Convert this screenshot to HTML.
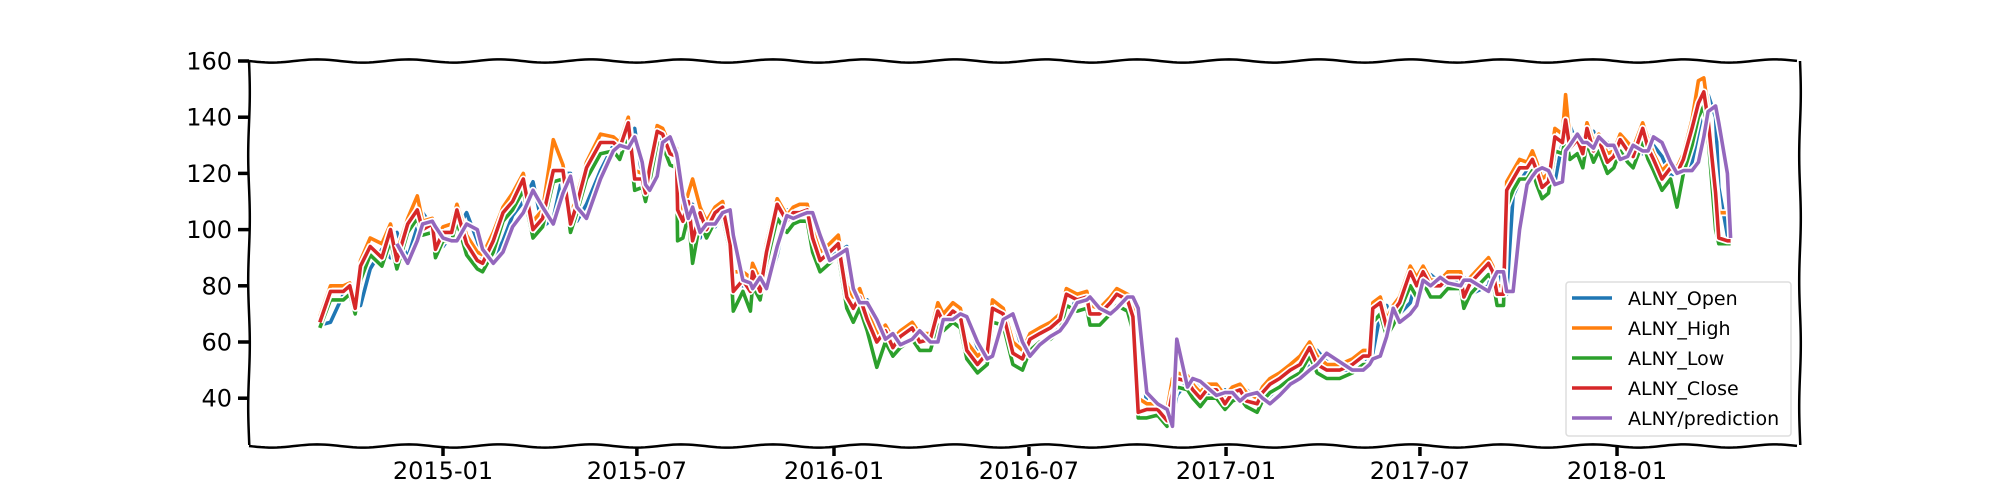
<!DOCTYPE html>
<html><head><meta charset="utf-8"><style>
html,body{margin:0;padding:0;background:#fff;}
svg{display:block;}
text{font-family:"DejaVu Sans","Liberation Sans",sans-serif;font-size:24px;fill:#000;}
</style></head><body>
<svg id="chart" width="2000" height="500" viewBox="0 0 2000 500" xmlns="http://www.w3.org/2000/svg">
<g id="frame"></g>
<g id="series"></g>
<g id="axes"></g>
<g id="legend"></g>
</svg>
<script>
// day offsets since 2014-09-01
const days=[7,17,29,35,40,45,54,65,73,79,89,98,103,112,115,122,130,135,144,154,159,169,178,187,197,206,215,225,234,241,247,256,269,281,287,295,301,308,311,315,322,327,334,340,341,346,351,355,362,368,376,383,390,393,402,409,411,418,424,434,443,449,455,462,467,474,483,491,499,505,511,518,527,535,542,549,560,567,577,584,589,598,605,611,621,630,635,645,654,663,670,679,689,698,704,714,723,726,735,745,751,761,766,771,779,789,798,803,807,817,822,829,835,844,852,859,866,872,882,887,894,903,913,922,931,938,947,959,971,981,987,990,997,1003,1009,1015,1025,1031,1037,1044,1053,1060,1072,1075,1081,1098,1102,1106,1112,1115,1121,1127,1134,1139,1143,1148,1154,1160,1167,1170,1174,1181,1186,1190,1196,1201,1209,1215,1221,1228,1233,1242,1247,1252,1260,1268,1274,1280,1288,1294,1299,1303,1310,1313,1321,1324];
const closeVals=[67,78,78,80,72,87,94,90,100,89,102,107,100,102,93,99,99,107,95,89,88,96,106,110,118,100,104,121,121,102,109,122,131,131,129,138,118,118,113,122,135,134,127,126,107,103,110,96,106,100,106,108,95,78,82,78,85,78,92,109,103,106,106,107,97,89,92,95,76,72,76,68,60,64,58,62,65,60,61,71,67,71,69,57,52,56,72,70,56,54,61,63,65,68,77,75,76,70,70,74,77,75,69,35,36,36,32,42,47,46,43,40,43,43,38,42,43,39,38,42,45,47,50,52,58,52,50,50,52,55,55,72,74,65,71,74,85,80,85,80,80,83,83,76,81,88,85,77,77,114,118,122,122,125,121,115,117,133,131,139,129,132,127,136,128,132,124,126,132,128,126,136,129,125,118,122,120,125,136,145,149,139,113,97,96,96];
const openVals=[66,67,77,78,79,73,86,93,90,99,90,101,106,101,101,94,98,100,106,96,89,89,96,105,110,117,101,104,120,120,103,109,121,130,131,129,136,119,117,114,122,134,133,127,125,108,104,109,97,105,101,105,107,96,80,81,79,84,79,91,107,104,105,106,106,98,90,92,94,78,73,75,69,61,63,59,61,64,60,62,70,67,70,69,58,53,56,70,69,57,55,60,62,65,68,76,75,75,71,70,73,76,75,70,37,36,36,33,41,46,46,43,41,42,43,39,41,43,40,38,41,44,47,49,52,57,53,50,50,52,54,56,70,73,66,70,74,83,81,84,81,80,82,83,77,80,87,85,78,77,112,117,121,122,124,122,116,117,131,131,137,130,131,128,135,129,131,125,126,131,128,127,134,130,126,119,121,121,124,135,144,148,140,115,98,97];
const highVals=[69,80,80,81,76,89,97,95,102,92,104,112,103,104,96,101,102,109,98,92,91,99,108,113,120,103,107,132,123,105,112,124,134,133,131,140,121,120,118,124,137,136,130,129,111,106,113,118,108,103,108,110,98,85,85,83,88,82,95,111,105,108,109,109,100,92,95,98,80,76,79,71,63,66,61,64,67,63,63,74,70,74,72,60,55,58,75,72,60,57,63,65,67,70,79,77,78,73,72,76,79,77,76,40,38,38,36,47,49,48,45,42,45,45,41,44,45,42,40,44,47,49,52,55,60,55,52,52,54,57,57,74,76,68,73,76,87,83,87,82,82,85,85,79,83,90,87,80,80,117,121,125,124,128,124,118,120,136,134,148,132,134,130,138,131,134,127,128,134,131,129,138,132,127,121,124,122,127,139,153,154,143,117,106,106,106];
const lowVals=[65,75,75,77,70,82,91,87,96,86,99,104,98,99,90,96,96,103,91,86,85,92,103,107,114,97,101,117,118,99,106,118,127,128,125,134,114,115,110,117,131,130,123,122,96,97,105,88,103,97,103,105,92,71,78,71,80,75,88,104,99,102,103,103,92,85,88,91,72,67,72,64,51,60,55,58,61,57,57,66,64,67,65,54,49,52,67,66,52,50,57,60,61,64,73,71,72,66,66,70,73,71,64,33,33,34,30,38,44,43,40,37,40,40,36,39,40,37,35,39,42,44,47,49,55,49,47,47,49,52,52,67,70,62,66,71,80,76,81,76,76,79,79,72,77,84,82,73,73,108,114,118,118,121,116,111,113,128,127,133,125,127,122,131,124,128,120,122,128,124,122,131,125,121,114,118,108,120,130,140,144,133,100,95,95,95];
const predVals=[null,null,null,null,null,null,null,null,null,95,88,96,102,103,101,97,96,96,102,100,93,88,92,101,106,114,108,102,113,119,108,104,118,128,130,129,133,124,116,114,119,131,133,127,125,112,104,108,99,102,102,106,107,98,82,81,79,83,79,94,105,104,105,106,106,98,89,91,93,79,74,74,68,61,63,59,61,64,60,60,68,68,70,69,60,54,55,68,70,60,55,59,62,64,67,74,75,76,72,70,72,76,76,72,42,38,36,30,61,44,47,46,44,41,42,42,39,41,42,40,38,41,45,47,50,52,56,53,50,50,52,54,55,62,72,67,70,73,82,80,83,81,80,82,82,78,82,85,85,78,78,100,116,119,121,122,121,116,117,128,130,134,131,131,129,133,130,130,125,126,130,128,128,133,131,124,120,121,121,124,133,142,144,138,120,97,101];
const yTicks=[40,60,80,100,120,140,160];
const xTickDays=[122,303,487,669,853,1034,1218];
const xTickLabels=["2015-01","2015-07","2016-01","2016-07","2017-01","2017-07","2018-01"];
const seriesNames=["ALNY_Open","ALNY_High","ALNY_Low","ALNY_Close","ALNY/prediction"];
const seriesColors=["#1f77b4","#ff7f0e","#2ca02c","#d62728","#9467bd"];

const L=249,R=1800,T=61,B=445;
function xs(d){return 443+(d-122)*1.0712;}
function ys(v){return 61+(160-v)*2.81;}
const NS="http://www.w3.org/2000/svg";
function mk(tag,parent){const e=document.createElementNS(NS,tag);parent.appendChild(e);return e;}

const frame=document.getElementById('frame');
function wavyH(y,x0,x1){let d="M"+x0+" "+y;for(let x=x0;x<=x1;x+=4){d+=" L"+x+" "+(y+1.6*Math.sin((x-x0)/14.5));}return d;}
function wavyV(x,y0,y1){let d="M"+x+" "+y0;for(let y=y0;y<=y1;y+=4){d+=" L"+(x+0.8*Math.sin((y-y0)/20))+" "+y;}return d;}
[[wavyH(T,L,R),'top-spine'],[wavyH(B+1,L,R),'bottom-spine'],[wavyV(L,T,B),'left-spine'],[wavyV(R,T,B),'right-spine']].forEach(s=>{
 const p=mk('path',frame);p.setAttribute('d',s[0]);p.setAttribute('fill','none');p.setAttribute('stroke','#000');p.setAttribute('stroke-width','2.5');
 
 
});

const sg=document.getElementById('series');
const allVals=[openVals,highVals,lowVals,closeVals,predVals];
allVals.forEach((vals,k)=>{
 let d="";let started=false;
 vals.forEach((v,i)=>{if(v===null)return;d+=(started?" L":"M")+xs(days[i]).toFixed(1)+" "+ys(v).toFixed(1);started=true;});
 const halo=mk('path',sg);halo.setAttribute('d',d);halo.setAttribute('fill','none');halo.setAttribute('stroke','#fff');halo.setAttribute('stroke-width','7');halo.setAttribute('stroke-linejoin','round');
 
 
 const p=mk('path',sg);p.setAttribute('d',d);p.setAttribute('fill','none');p.setAttribute('stroke',seriesColors[k]);p.setAttribute('stroke-width','3.6');p.setAttribute('stroke-linejoin','round');
 
 
});

const ax=document.getElementById('axes');
yTicks.forEach(v=>{
 const y=ys(v);
 const t=mk('line',ax);t.setAttribute('x1',L-11);t.setAttribute('x2',L);t.setAttribute('y1',y);t.setAttribute('y2',y);t.setAttribute('stroke','#000');t.setAttribute('stroke-width','3.5');
 
 
 const tx=mk('text',ax);tx.setAttribute('x',L-17);tx.setAttribute('y',y+8.5);tx.setAttribute('text-anchor','end');tx.textContent=v;
 
 
});
xTickDays.forEach((dd,i)=>{
 const x=xs(dd);
 const t=mk('line',ax);t.setAttribute('x1',x);t.setAttribute('x2',x);t.setAttribute('y1',B+2);t.setAttribute('y2',B+11);t.setAttribute('stroke','#000');t.setAttribute('stroke-width','3.5');
 
 
 const tx=mk('text',ax);tx.setAttribute('x',x);tx.setAttribute('y',479);tx.setAttribute('text-anchor','middle');tx.textContent=xTickLabels[i];
 
 
});

const lg=document.getElementById('legend');
const box=mk('rect',lg);box.setAttribute('x',1566);box.setAttribute('y',282);box.setAttribute('width',225);box.setAttribute('height',154);box.setAttribute('rx',3);box.setAttribute('fill','#fff');box.setAttribute('fill-opacity','0.85');box.setAttribute('stroke','#ddd');box.setAttribute('stroke-width','1.5');


seriesNames.forEach((n,i)=>{
 const y=298+i*30;
 const ln=mk('line',lg);ln.setAttribute('x1',1572);ln.setAttribute('x2',1612);ln.setAttribute('y1',y);ln.setAttribute('y2',y);ln.setAttribute('stroke',seriesColors[i]);ln.setAttribute('stroke-width','3.5');
 
 
 const tx=mk('text',lg);tx.setAttribute('x',1628);tx.setAttribute('y',y+7);tx.setAttribute('style','font-size:19px');tx.textContent=n;
 
 
});
</script>
</body></html>
